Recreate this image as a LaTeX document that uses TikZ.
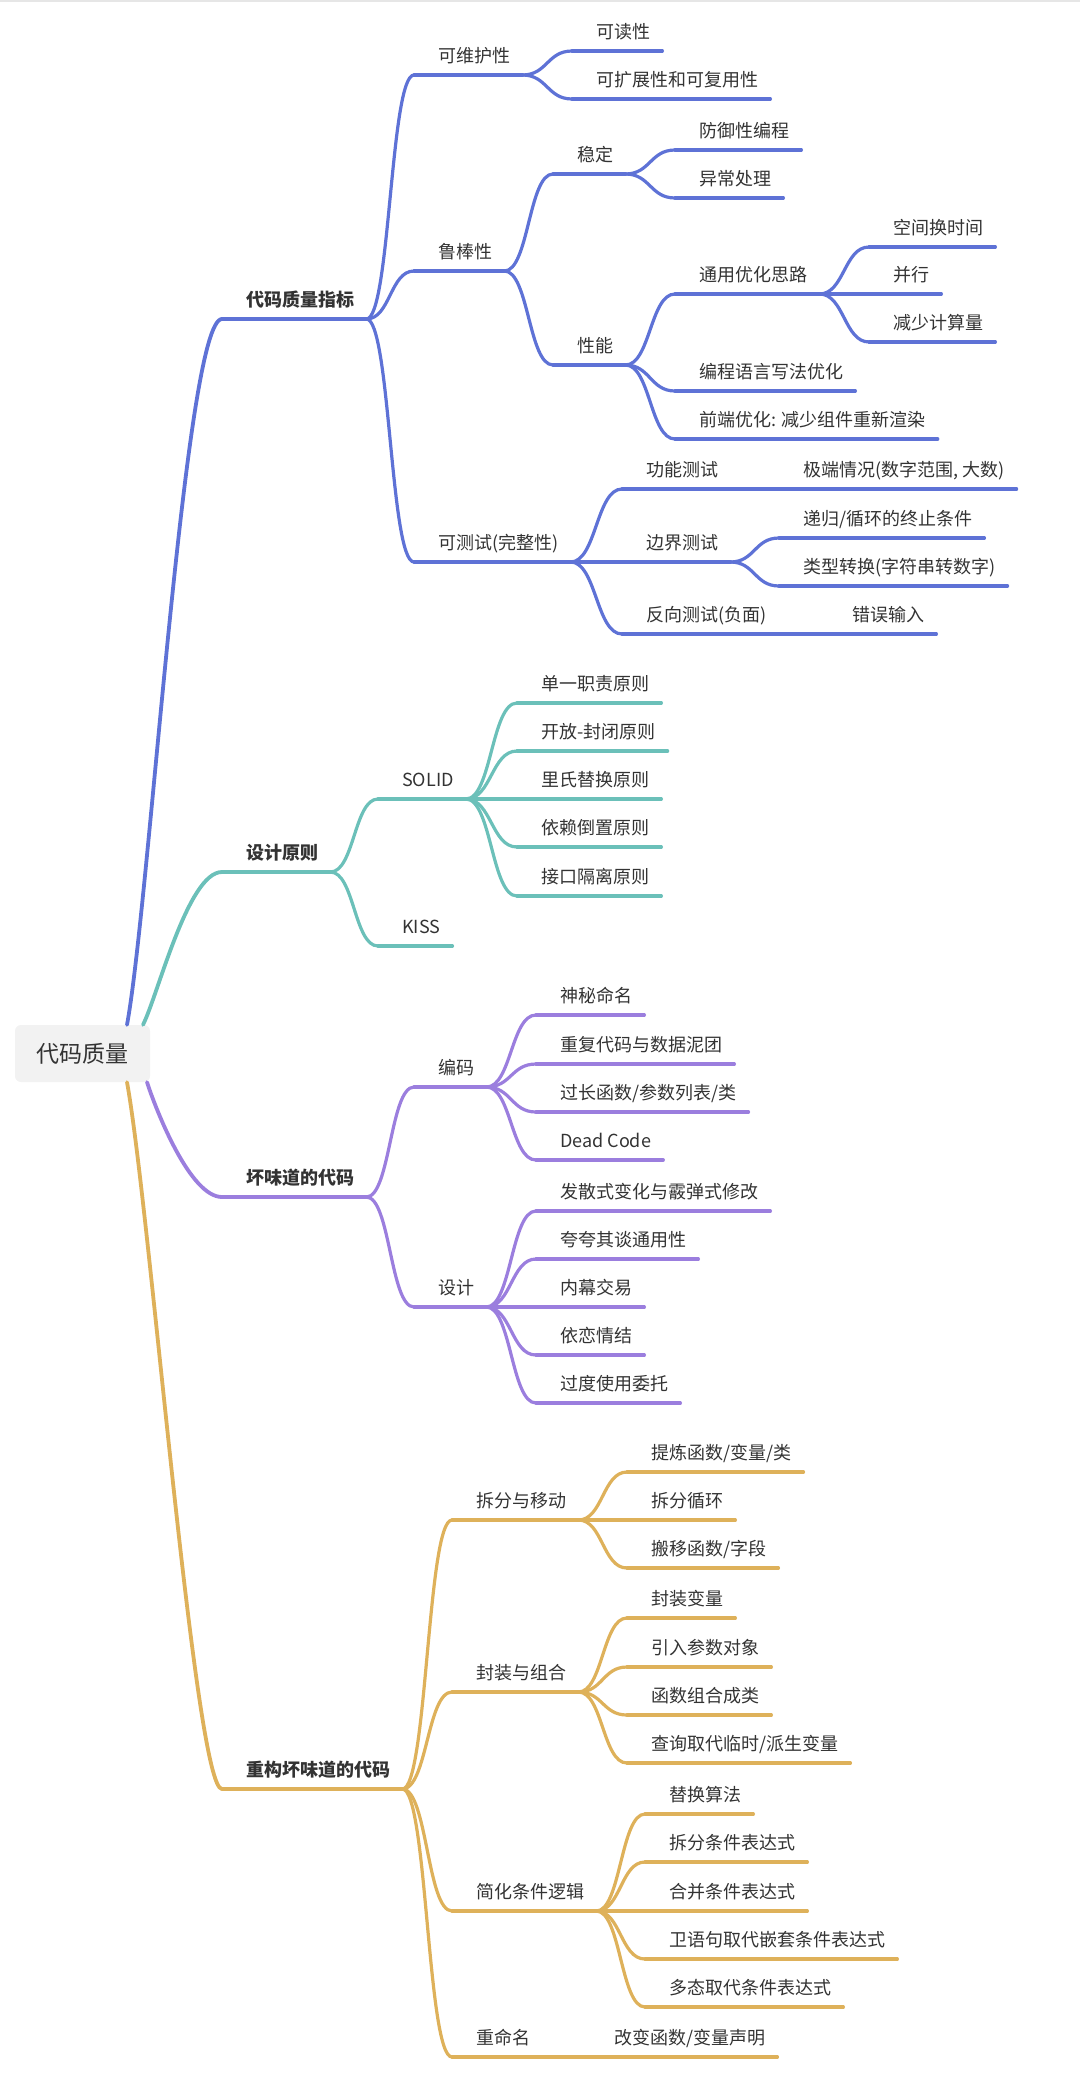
\documentclass[tikz,border=0pt]{standalone}
\usepackage{fontspec}
\setmainfont{Noto Sans CJK SC}
\usetikzlibrary{calc,positioning}

\definecolor{txtc}{HTML}{333333}
\definecolor{cblue}{HTML}{5E72D6}
\definecolor{cteal}{HTML}{6BC0B9}
\definecolor{cpurp}{HTML}{9B7EDE}
\definecolor{cgold}{HTML}{DEB15A}
\definecolor{rootbg}{HTML}{F2F2F2}
\definecolor{topbar}{HTML}{E6E6E6}

\tikzset{
  topic/.style={anchor=south west, inner xsep=12pt, inner ysep=8pt,
    text height=14pt, text depth=4pt, text=txtc,
    font=\fontsize{18pt}{22pt}\selectfont,
    execute at begin node={\hspace*{12pt}}},
  lvlone/.style={topic, font=\fontsize{18pt}{22pt}\selectfont\bfseries},
  rootbox/.style={fill=rootbg, rounded corners=6pt, minimum width=135pt,
    minimum height=57pt, inner sep=0pt, text=txtc,
    font=\fontsize{23pt}{28pt}\selectfont},
  uline/.style={line width=3.2pt, line cap=round},
  thick1/.style={line width=3.6pt, line cap=round},
  trunk/.style={line width=3.8pt, line cap=round},
  branch/.style={uline, to path={let \p1=(\tikztostart), \p2=(\tikztotarget) in
    (\p1) .. controls ({0.5*(\x1+\x2)},\y1) and ({0.5*(\x1+\x2)},\y2) .. (\p2)}},
}

\begin{document}
\begin{tikzpicture}[x=1pt, y=-1pt]
  % Fixed bounding box (image pixels)
  \useasboundingbox (0,0) rectangle (1080,2088);
  \fill[topbar] (0,0) rectangle (1080,2);

  % Root
  \node[rootbox] (root) at (82.5,1053.5) {代码质量};

  % Blue branch: quality metrics
  \begin{scope}[cblue]
    \node[lvlone] (zlzb) at (222,319) {代码质量指标};
    \draw[thick1] (zlzb.south west) -- (zlzb.south east);
    \draw[trunk] ([xshift=44.5pt]root.north) .. controls (150,900) and (185,319) .. (zlzb.south west);
    \foreach \nm/\xx/\yy/\txt in {
      kwh/414/75/可维护性, lbx/414/271/鲁棒性, kcs/414/562/可测试(完整性),
      kdx/572/51/可读性, kkz/572/99/可扩展性和可复用性,
      wd/553/174/稳定, xn/553/365/性能,
      fyx/675/150/防御性编程, ycl/675/198/异常处理,
      tyyh/675/294/通用优化思路, bcyy/675/391/编程语言写法优化,
      qdyh/675/439/前端优化: 减少组件重新渲染,
      kjh/869/247/空间换时间, bx/869/294/并行, jsjs/869/342/减少计算量,
      gncs/622/489/功能测试, bjcs/622/562/边界测试, fxcs/622/634/反向测试(负面),
      jdqk/779/489/{极端情况(数字范围, 大数)}, dg/779/538/{递归/循环的终止条件},
      lxzh/779/586/类型转换(字符串转数字), cwsr/828/634/错误输入} {
      \node[topic] (\nm) at (\xx,\yy) {\txt};
      \draw[uline] (\nm.south west) -- (\nm.south east);
    }
    \foreach \pa/\ch in {zlzb/kwh, zlzb/lbx, zlzb/kcs, kwh/kdx, kwh/kkz,
      lbx/wd, lbx/xn, wd/fyx, wd/ycl, xn/tyyh, xn/bcyy, xn/qdyh,
      tyyh/kjh, tyyh/bx, tyyh/jsjs, kcs/gncs, kcs/bjcs, kcs/fxcs,
      gncs/jdqk, bjcs/dg, bjcs/lxzh, fxcs/cwsr}
      \draw[branch] (\pa.south east) to (\ch.south west);
  \end{scope}

  % Teal branch: design principles
  \begin{scope}[cteal]
    \node[lvlone] (sjyz) at (222,872) {设计原则};
    \draw[thick1] (sjyz.south west) -- (sjyz.south east);
    \draw[trunk] ([xshift=60.5pt]root.north) .. controls (158,995) and (188,872) .. (sjyz.south west);
    \foreach \nm/\xx/\yy/\txt in {
      solid/378/799/SOLID, kiss/378/946/KISS,
      dyzz/517/703/单一职责原则, kfbf/517/751/开放-封闭原则,
      lstd/517/799/里氏替换原则, ylzd/517/847/依赖倒置原则,
      jkgl/517/896/接口隔离原则} {
      \node[topic] (\nm) at (\xx,\yy) {\txt};
      \draw[uline] (\nm.south west) -- (\nm.south east);
    }
    \foreach \pa/\ch in {sjyz/solid, sjyz/kiss, solid/dyzz, solid/kfbf,
      solid/lstd, solid/ylzd, solid/jkgl}
      \draw[branch] (\pa.south east) to (\ch.south west);
  \end{scope}

  % Purple branch: code smells
  \begin{scope}[cpurp]
    \node[lvlone] (hwd) at (222,1197) {坏味道的代码};
    \draw[thick1] (hwd.south west) -- (hwd.south east);
    \draw[trunk] ([xshift=64.5pt]root.south) .. controls (156,1110) and (190,1197) .. (hwd.south west);
    \foreach \nm/\xx/\yy/\txt in {
      bm/414/1087/编码, sj/414/1307/设计,
      smmm/536/1015/神秘命名, cfdm/536/1064/重复代码与数据泥团,
      gchs/536/1112/{过长函数/参数列表/类}, dead/536/1160/Dead Code,
      fss/536/1211/发散式变化与霰弹式修改, kkq/536/1259/夸夸其谈通用性,
      nmjy/536/1307/内幕交易, ylqj/536/1355/依恋情结,
      gdsy/536/1403/过度使用委托} {
      \node[topic] (\nm) at (\xx,\yy) {\txt};
      \draw[uline] (\nm.south west) -- (\nm.south east);
    }
    \foreach \pa/\ch in {hwd/bm, hwd/sj, bm/smmm, bm/cfdm, bm/gchs, bm/dead,
      sj/fss, sj/kkq, sj/nmjy, sj/ylqj, sj/gdsy}
      \draw[branch] (\pa.south east) to (\ch.south west);
  \end{scope}

  % Gold branch: refactoring
  \begin{scope}[cgold]
    \node[lvlone] (cg) at (222,1789) {重构坏味道的代码};
    \draw[thick1] (cg.south west) -- (cg.south east);
    \draw[trunk] ([xshift=44.5pt]root.south) .. controls (150,1208) and (195,1789) .. (cg.south west);
    \foreach \nm/\xx/\yy/\txt in {
      cfyd/452/1520/拆分与移动, fzzh/452/1692/封装与组合,
      jhtj/452/1911/简化条件逻辑, cmm/452/2057/重命名,
      tlhs/627/1472/{提炼函数/变量/类}, cfxh/627/1520/拆分循环,
      bahs/627/1568/{搬移函数/字段},
      fzbl/627/1618/封装变量, yrcs/627/1667/引入参数对象,
      hszh/627/1715/函数组合成类, cxqd/627/1763/{查询取代临时/派生变量},
      thsf/645/1814/替换算法, cftj/645/1862/拆分条件表达式,
      hbtj/645/1911/合并条件表达式, wyj/645/1959/卫语句取代嵌套条件表达式,
      dtqd/645/2007/多态取代条件表达式, gbhs/590/2057/{改变函数/变量声明}} {
      \node[topic] (\nm) at (\xx,\yy) {\txt};
      \draw[uline] (\nm.south west) -- (\nm.south east);
    }
    \foreach \pa/\ch in {cg/cfyd, cg/fzzh, cg/jhtj, cg/cmm,
      cfyd/tlhs, cfyd/cfxh, cfyd/bahs, fzzh/fzbl, fzzh/yrcs, fzzh/hszh, fzzh/cxqd,
      jhtj/thsf, jhtj/cftj, jhtj/hbtj, jhtj/wyj, jhtj/dtqd, cmm/gbhs}
      \draw[branch] (\pa.south east) to (\ch.south west);
  \end{scope}
\end{tikzpicture}
\end{document}
